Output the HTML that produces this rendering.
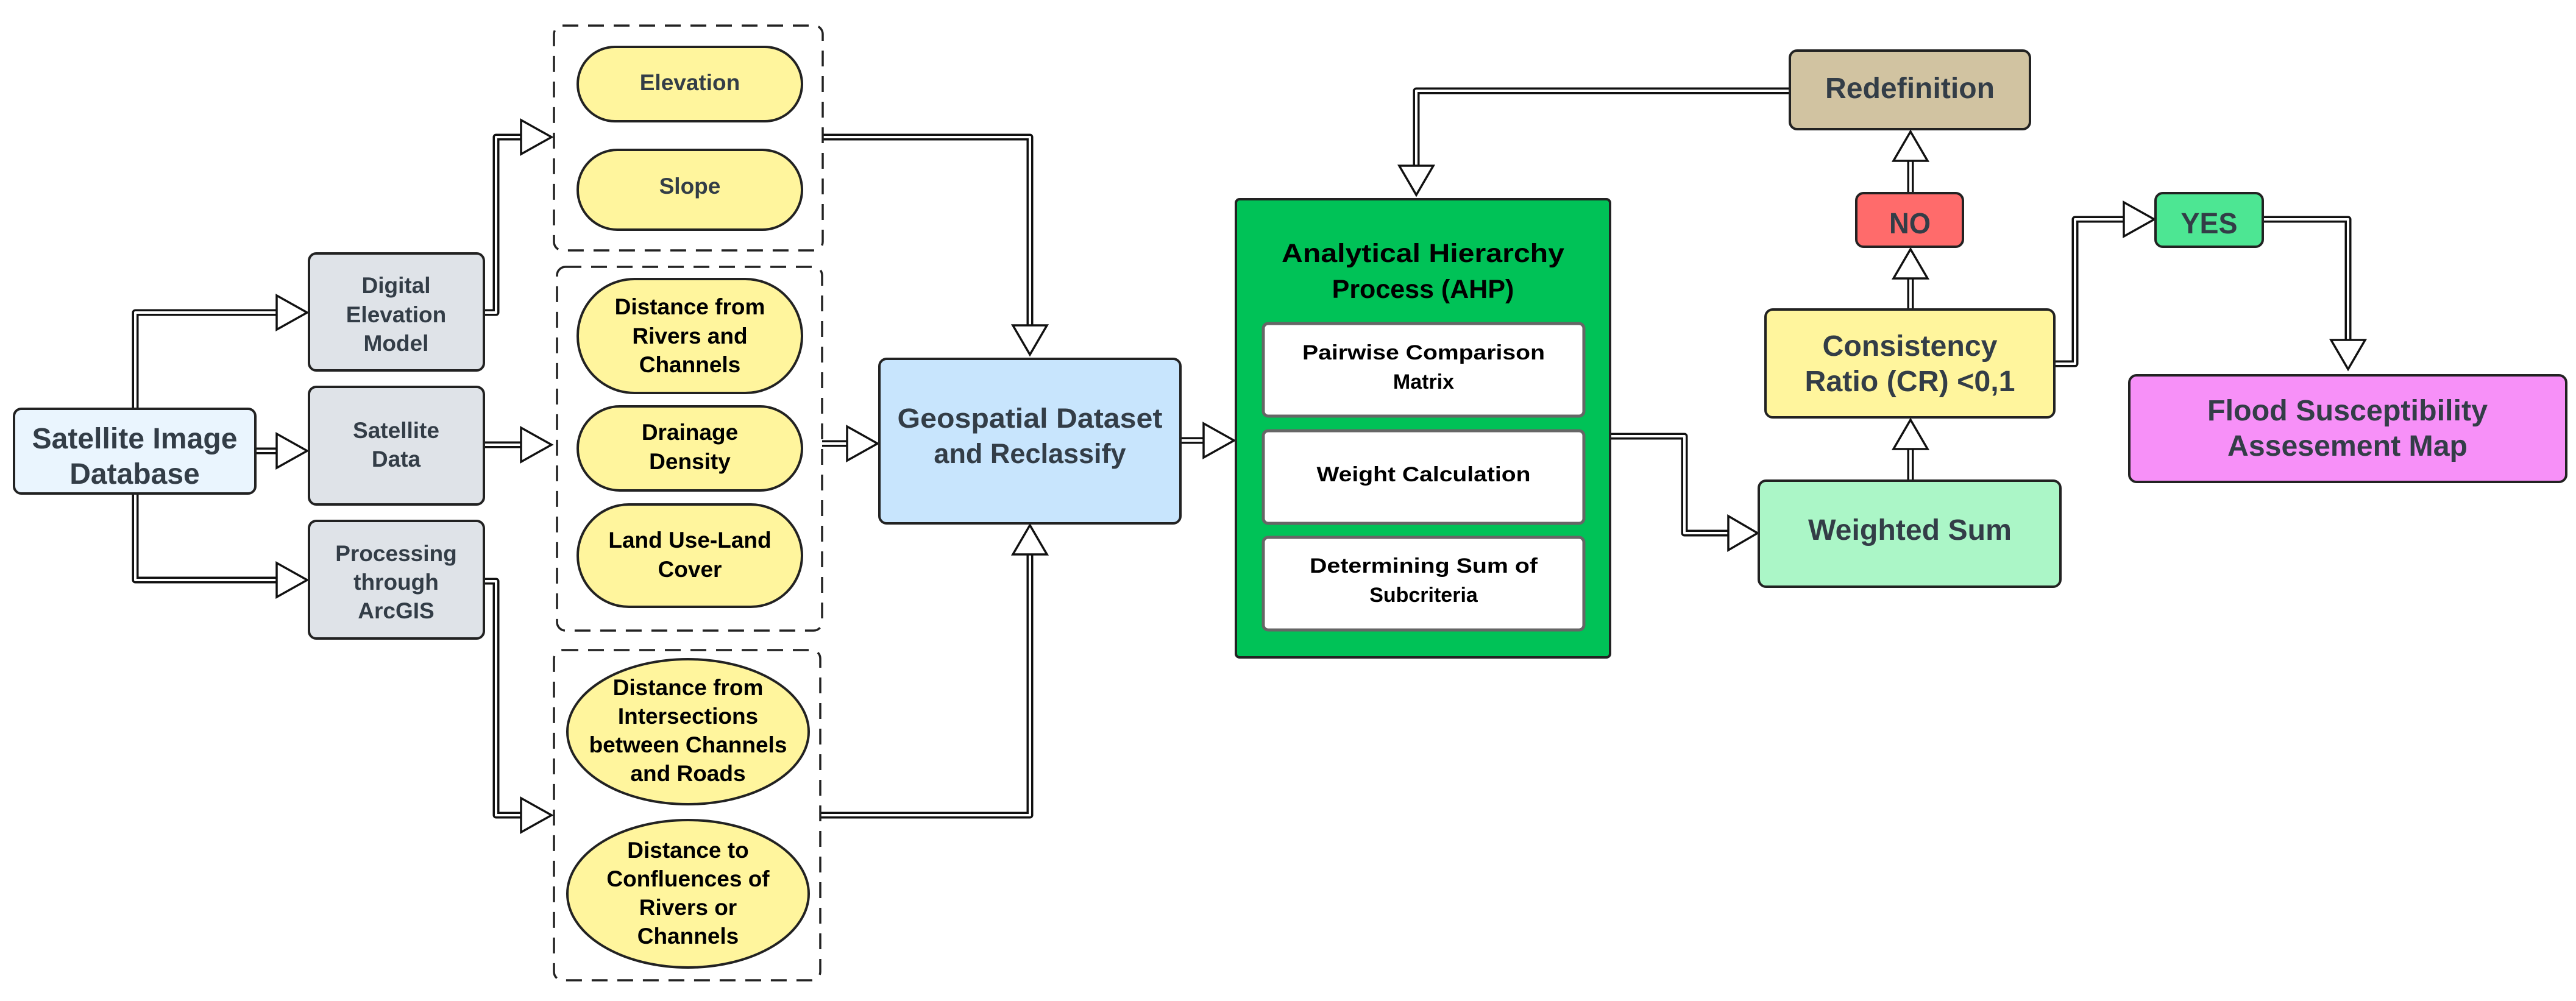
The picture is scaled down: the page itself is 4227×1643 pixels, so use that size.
<!DOCTYPE html>
<html><head><meta charset="utf-8"><style>
html,body{margin:0;padding:0;background:#fff;}
svg{display:block;}
text{font-family:"Liberation Sans",sans-serif;font-weight:bold;text-anchor:middle;}
.g{fill:#333d47;}
.k{fill:#000;}
.n{font-family:"Liberation Sans Narrow","Liberation Sans",sans-serif;}
</style></head><body>
<svg width="4227" height="1643" viewBox="0 0 4227 1643" xmlns="http://www.w3.org/2000/svg">
<g fill="none" stroke-linejoin="round">
<g stroke="#111" stroke-width="11">
<path d="M222,671 V513 H456"/><path d="M419,740 H456"/><path d="M222,810 V952 H456"/>
<path d="M794,513 H814 V225 H857"/><path d="M794,730 H857"/><path d="M794,954 H814 V1338 H857"/>
<path d="M1350,225 H1690 V536"/><path d="M1349,728 H1392"/><path d="M1346,1338 H1690 V908"/>
<path d="M1937,723 H1977"/><path d="M2937,149 H2324 V274"/><path d="M2642,716 H2764 V875 H2838"/>
<path d="M3135,789 V735"/><path d="M3135,508 V455"/><path d="M3135,317 V262"/>
<path d="M3371,597 H3405 V360 H3487"/><path d="M3713,360 H3853 V560"/>
</g>
<g stroke="#fff" stroke-width="4">
<path d="M222,671 V513 H456"/><path d="M419,740 H456"/><path d="M222,810 V952 H456"/>
<path d="M794,513 H814 V225 H857"/><path d="M794,730 H857"/><path d="M794,954 H814 V1338 H857"/>
<path d="M1350,225 H1690 V536"/><path d="M1349,728 H1392"/><path d="M1346,1338 H1690 V908"/>
<path d="M1937,723 H1977"/><path d="M2937,149 H2324 V274"/><path d="M2642,716 H2764 V875 H2838"/>
<path d="M3135,789 V735"/><path d="M3135,508 V455"/><path d="M3135,317 V262"/>
<path d="M3371,597 H3405 V360 H3487"/><path d="M3713,360 H3853 V560"/>
</g>
</g>
<g fill="#fff" stroke="#111" stroke-width="3.5" stroke-linejoin="miter">
<polygon points="454,485 504,513 454,541"/>
<polygon points="454,712 504,740 454,768"/>
<polygon points="454,924 504,952 454,980"/>
<polygon points="855,197 905,225 855,253"/>
<polygon points="855,702 905,730 855,758"/>
<polygon points="855,1310 905,1338 855,1366"/>
<polygon points="1662,534 1690,582 1718,534"/>
<polygon points="1390,700 1440,728 1390,756"/>
<polygon points="1662,910 1690,862 1718,910"/>
<polygon points="1975,695 2025,723 1975,751"/>
<polygon points="2296,272 2324,320 2352,272"/>
<polygon points="2836,847 2884,875 2836,903"/>
<polygon points="3107,737 3135,689 3163,737"/>
<polygon points="3107,457 3135,409 3163,457"/>
<polygon points="3107,264 3135,216 3163,264"/>
<polygon points="3485,332 3535,360 3485,388"/>
<polygon points="3825,558 3853,606 3881,558"/>
</g>
<g fill="none" stroke="#222" stroke-width="3.5" stroke-dasharray="26,16">
<rect x="909" y="42" width="441" height="369" rx="14"/>
<rect x="914" y="438" width="435" height="597" rx="14"/>
<rect x="909" y="1067" width="437" height="542" rx="14"/>
</g>
<g stroke="#222" stroke-width="4">
<rect x="23" y="671" width="396" height="139" rx="12" fill="#eaf5fe"/>
<rect x="507" y="416" width="287" height="192" rx="12" fill="#dfe3e8"/>
<rect x="507" y="635" width="287" height="193" rx="12" fill="#dfe3e8"/>
<rect x="507" y="855" width="287" height="193" rx="12" fill="#dfe3e8"/>
<rect x="948" y="77" width="368" height="122" rx="61" fill="#fff59d"/>
<rect x="948" y="246" width="368" height="131" rx="65" fill="#fff59d"/>
<rect x="948" y="458" width="368" height="187" rx="93" fill="#fff59d"/>
<rect x="948" y="667" width="368" height="138" rx="69" fill="#fff59d"/>
<rect x="948" y="828" width="368" height="168" rx="84" fill="#fff59d"/>
<ellipse cx="1129" cy="1201" rx="198" ry="119" fill="#fff59d"/>
<ellipse cx="1129" cy="1467" rx="198" ry="121" fill="#fff59d"/>
<rect x="1443" y="589" width="494" height="270" rx="12" fill="#c8e5fd"/>
<rect x="2028" y="327" width="614" height="752" rx="6" fill="#00c257"/>
<rect x="2937" y="83" width="394" height="129" rx="12" fill="#d1c3a1"/>
<rect x="3046" y="317" width="175" height="88" rx="12" fill="#ff6b6b"/>
<rect x="3537" y="317" width="176" height="88" rx="12" fill="#4de693"/>
<rect x="2897" y="508" width="474" height="177" rx="12" fill="#fff59d"/>
<rect x="2886" y="789" width="495" height="174" rx="12" fill="#abf6c7"/>
<rect x="3494" y="616" width="717" height="175" rx="12" fill="#f790f8"/>
</g>
<g fill="#fff" stroke="#666" stroke-width="5">
<rect x="2073" y="531" width="526" height="152" rx="8"/>
<rect x="2073" y="707" width="526" height="152" rx="8"/>
<rect x="2073" y="882" width="526" height="152" rx="8"/>
</g>
<g class="g" font-size="48">
<text x="221" y="736" textLength="337" lengthAdjust="spacingAndGlyphs">Satellite Image</text>
<text x="221" y="794">Database</text>
</g>
<g class="g" font-size="37">
<text x="650" y="481">Digital</text><text x="650" y="529">Elevation</text><text x="650" y="576">Model</text>
<text x="650" y="719">Satellite</text><text x="650" y="766">Data</text>
<text x="650" y="921">Processing</text><text x="650" y="968">through</text><text x="650" y="1015">ArcGIS</text>
<text x="1132" y="148">Elevation</text>
<text x="1132" y="318">Slope</text>
</g>
<g class="k" font-size="37">
<text x="1132" y="516">Distance from</text><text x="1132" y="564">Rivers and</text><text x="1132" y="611">Channels</text>
<text x="1132" y="722">Drainage</text><text x="1132" y="770">Density</text>
<text x="1132" y="899">Land Use-Land</text><text x="1132" y="947">Cover</text>
<text x="1129" y="1141">Distance from</text><text x="1129" y="1188">Intersections</text><text x="1129" y="1235">between Channels</text><text x="1129" y="1282">and Roads</text>
<text x="1129" y="1408">Distance to</text><text x="1129" y="1455">Confluences of</text><text x="1129" y="1502">Rivers or</text><text x="1129" y="1549">Channels</text>
</g>
<g class="g" font-size="45">
<text x="1690" y="702" textLength="435" lengthAdjust="spacingAndGlyphs">Geospatial Dataset</text>
<text x="1690" y="760">and Reclassify</text>
</g>
<g class="k" font-size="43">
<text x="2335" y="430" textLength="464" lengthAdjust="spacingAndGlyphs">Analytical Hierarchy</text>
<text x="2335" y="489">Process (AHP)</text>
</g>
<g class="k" font-size="34">
<text x="2336" y="590" textLength="398" lengthAdjust="spacingAndGlyphs">Pairwise Comparison</text>
<text x="2336" y="638">Matrix</text>
<text x="2336" y="790" textLength="351" lengthAdjust="spacingAndGlyphs">Weight Calculation</text>
<text x="2336" y="940" textLength="374" lengthAdjust="spacingAndGlyphs">Determining Sum of</text>
<text x="2336" y="988">Subcriteria</text>
</g>
<g class="g n" font-size="48">
<text x="3134" y="161" textLength="278" lengthAdjust="spacingAndGlyphs">Redefinition</text>
<text x="3134" y="383" textLength="68" lengthAdjust="spacingAndGlyphs">NO</text>
<text x="3625" y="383" textLength="93" lengthAdjust="spacingAndGlyphs">YES</text>
<text x="3134" y="584" textLength="287" lengthAdjust="spacingAndGlyphs">Consistency</text>
<text x="3134" y="642" textLength="345" lengthAdjust="spacingAndGlyphs">Ratio (CR) &lt;0,1</text>
<text x="3134" y="886" textLength="334" lengthAdjust="spacingAndGlyphs">Weighted Sum</text>
<text x="3852" y="690" textLength="460" lengthAdjust="spacingAndGlyphs">Flood Susceptibility</text>
<text x="3852" y="748" textLength="394" lengthAdjust="spacingAndGlyphs">Assesement Map</text>
</g>
</svg>
</body></html>
